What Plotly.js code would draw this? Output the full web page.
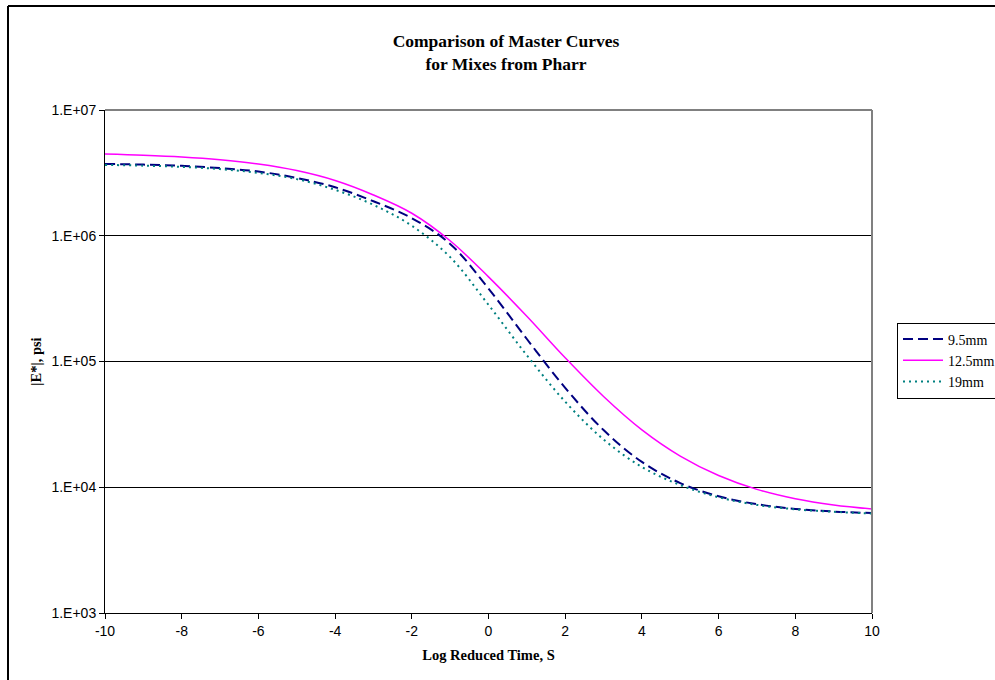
<!DOCTYPE html>
<html>
<head>
<meta charset="utf-8">
<script src="https://cdn.plot.ly/plotly-3.0.1.min.js"></script>
<style>
  html, body { margin: 0; padding: 0; background: #fff; }
  #chart { width: 995px; height: 680px; }
</style>
</head>
<body>
<div id="chart"></div>
<script>
// Log reduced time, S
const logTime = [-10, -9, -8, -7, -6, -5, -4, -3, -2, -1, 0, 1, 2, 3, 4, 5, 6, 7, 8, 9, 10];

// |E*| in psi for each mix
const mix95 = [3720000, 3680000, 3600000, 3450000, 3240000, 2880000, 2430000, 1880000, 1380000, 861000,
               380000, 151000, 61700, 28500, 15900, 10800, 8470, 7330, 6730, 6410, 6240];
const mix125 = [4460000, 4365000, 4230000, 4020000, 3720000, 3300000, 2750000, 2110000, 1510000, 912000,
                471000, 229000, 107000, 52700, 28600, 17700, 12400, 9620, 8110, 7240, 6730];
const mix19 = [3660000, 3610000, 3530000, 3390000, 3160000, 2820000, 2320000, 1760000, 1200000, 676000,
               282000, 112000, 47900, 24000, 14500, 10400, 8320, 7240, 6680, 6380, 6170];

const seriesNames = ['9.5mm', '12.5mm', '19mm'];
const xTickVals = [-10, -8, -6, -4, -2, 0, 2, 4, 6, 8, 10];
const xTickText = ['-10', '-8', '-6', '-4', '-2', '0', '2', '4', '6', '8', '10'];
const yTickVals = [1e3, 1e4, 1e5, 1e6, 1e7];
const yTickText = ['1.E+03', '1.E+04', '1.E+05', '1.E+06', '1.E+07'];

const serif = '"Liberation Serif", "Times New Roman", serif';
const sans = '"Liberation Sans", Arial, sans-serif';

const traces = [
  { x: logTime, y: mix95, name: seriesNames[0], mode: 'lines',
    line: { color: '#000080', width: 2, dash: '10px,5px', shape: 'spline', smoothing: 1 } },
  { x: logTime, y: mix125, name: seriesNames[1], mode: 'lines',
    line: { color: '#FF00FF', width: 1.5, shape: 'spline', smoothing: 1 } },
  { x: logTime, y: mix19, name: seriesNames[2], mode: 'lines',
    line: { color: '#008080', width: 2, dash: '2px,4px', shape: 'spline', smoothing: 1 } }
];

// plot area: 105..872 px horizontally, 110..613 px vertically
const L = 105, R = 872, T = 110, B = 613;
const px = v => (v - L) / (R - L);
const py = v => (B - v) / (B - T);

const layout = {
  width: 995, height: 680,
  margin: { l: L, r: 995 - R, t: T, b: 680 - B, autoexpand: false },
  paper_bgcolor: '#fff', plot_bgcolor: '#fff',
  font: { family: sans, size: 14, color: '#000' },
  title: {
    text: 'Comparison of Master Curves<br>for Mixes from Pharr',
    font: { family: serif, size: 17.5, color: '#000', weight: 'bold' },
    xref: 'paper', x: px(506), xanchor: 'center',
    yref: 'container', y: (680 - 47) / 680, yanchor: 'middle'
  },
  xaxis: {
    range: [-10, 10], tickvals: xTickVals, ticktext: xTickText,
    showgrid: false, zeroline: false,
    showline: true, linecolor: '#000', linewidth: 1,
    ticks: 'outside', ticklen: 5, tickcolor: '#000',
    tickfont: { family: sans, size: 14 },
    title: { text: 'Log Reduced Time, S', font: { family: serif, size: 14.5, weight: 'bold' }, standoff: 12 }
  },
  yaxis: {
    type: 'log', range: [3, 7],
    tickvals: yTickVals, ticktext: yTickText,
    showgrid: true, gridcolor: '#000', gridwidth: 1,
    zeroline: false,
    showline: true, linecolor: '#000', linewidth: 1,
    ticks: 'outside', ticklen: 5, tickcolor: '#000',
    tickfont: { family: sans, size: 14 },
    title: { text: '|E*|, psi', font: { family: serif, size: 14.5, weight: 'bold' }, standoff: 6 }
  },
  showlegend: true,
  legend: {
    x: px(897), xanchor: 'left', y: py(360.5), yanchor: 'middle',
    bordercolor: '#000', borderwidth: 1, bgcolor: '#fff',
    font: { family: serif, size: 14, color: '#000' },
    itemwidth: 40, tracegroupgap: 0
  },
  shapes: [
    // gray frame of the plot area (top and right)
    { type: 'line', xref: 'paper', yref: 'paper', x0: 0, x1: 1, y0: 1, y1: 1,
      line: { color: '#808080', width: 2 }, layer: 'above' },
    { type: 'line', xref: 'paper', yref: 'paper', x0: 1, x1: 1, y0: 0, y1: 1,
      line: { color: '#808080', width: 2 }, layer: 'above' },
    // outer chart border (left and top)
    { type: 'line', xref: 'paper', yref: 'paper', x0: px(8), x1: px(1000), y0: py(6), y1: py(6),
      line: { color: '#000', width: 2 } },
    { type: 'line', xref: 'paper', yref: 'paper', x0: px(8), x1: px(8), y0: py(6), y1: py(700),
      line: { color: '#000', width: 2 } }
  ]
};

Plotly.newPlot('chart', traces, layout, { staticPlot: true, displayModeBar: false });
</script>
</body>
</html>
